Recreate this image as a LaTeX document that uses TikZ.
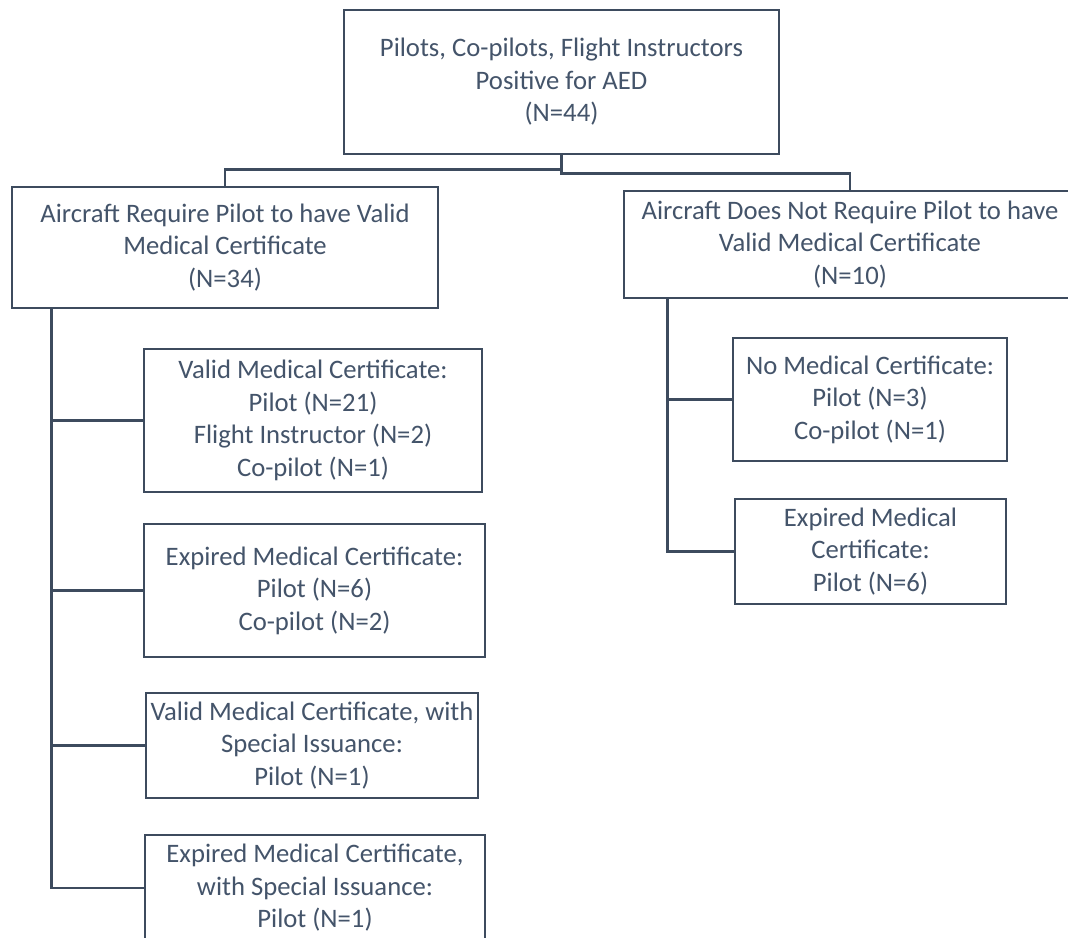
\documentclass[tikz,border=0pt]{standalone}
\usepackage{fontspec}
\setmainfont{Carlito}
\definecolor{slate}{HTML}{44546A}
\definecolor{slateline}{HTML}{3D4B5E}
\begin{document}
\begin{tikzpicture}[x=0.75pt,y=-0.75pt,
  bx/.style={draw=slateline,line width=2pt,fill=white,inner sep=0pt,align=center,
    text=slate,font=\fontsize{20pt}{24.4pt}\selectfont},
  cn/.style={draw=slateline,line width=2pt}]
\useasboundingbox (0,0) rectangle (1068,938);
\clip (0,0) rectangle (1068,938);
\fill[white] (0,0) rectangle (1068,938);
\node[bx,minimum width=326.25pt,minimum height=108pt] (top) at (561.5,82)
  {Pilots, Co-pilots, Flight Instructors\\Positive for AED\\(N=44)};
\node[bx,minimum width=319.5pt,minimum height=90.75pt] (L) at (225,247.5)
  {Aircraft Require Pilot to have Valid\\Medical Certificate\\(N=34)};
\node[bx,minimum width=339pt,minimum height=80.25pt] (R) at (850,244.5)
  {Aircraft Does Not Require Pilot to have\\Valid Medical Certificate\\(N=10)};
\node[bx,minimum width=253.5pt,minimum height=107.25pt] (B1) at (313,420.5)
  {Valid Medical Certificate:\\Pilot (N=21)\\Flight Instructor (N=2)\\Co-pilot (N=1)};
\node[bx,minimum width=255.75pt,minimum height=99.75pt] (B2) at (314.5,590.5)
  {Expired Medical Certificate:\\Pilot (N=6)\\Co-pilot (N=2)};
\node[bx,minimum width=249pt,minimum height=78.75pt] (B3) at (312,745.5)
  {Valid Medical Certificate, with\\Special Issuance:\\Pilot (N=1)};
\node[bx,minimum width=255pt,minimum height=79.5pt] (B4) at (315,888)
  {Expired Medical Certificate,\\with Special Issuance:\\Pilot (N=1)};
\node[bx,minimum width=205.5pt,minimum height=92.25pt] (R1) at (870,399.5)
  {No Medical Certificate:\\Pilot (N=3)\\Co-pilot (N=1)};
\node[bx,minimum width=203.25pt,minimum height=78.75pt] (R2) at (870.5,551.5)
  {Expired Medical\\Certificate:\\Pilot (N=6)};
% top connectors
\coordinate (tr) at ([yshift=-13.5pt]top.south);
\coordinate (tl) at ([yshift=-10.5pt]top.south);
\draw[cn] (top.south) -- (tr) -| (R.north);
\draw[cn] (tl) -| (L.north);
% left trunk
\coordinate (lt) at ([xshift=30.75pt]L.south west);
\draw[cn] (lt) |- (B4.west);
\draw[cn] (lt) |- (B1.west);
\draw[cn] (lt) |- (B2.west);
\draw[cn] (lt) |- (B3.west);
% right trunk
\coordinate (rt) at ([xshift=33.75pt]R.south west);
\draw[cn] (rt) |- (R2.west);
\draw[cn] (rt) |- (R1.west);
\end{tikzpicture}
\end{document}
